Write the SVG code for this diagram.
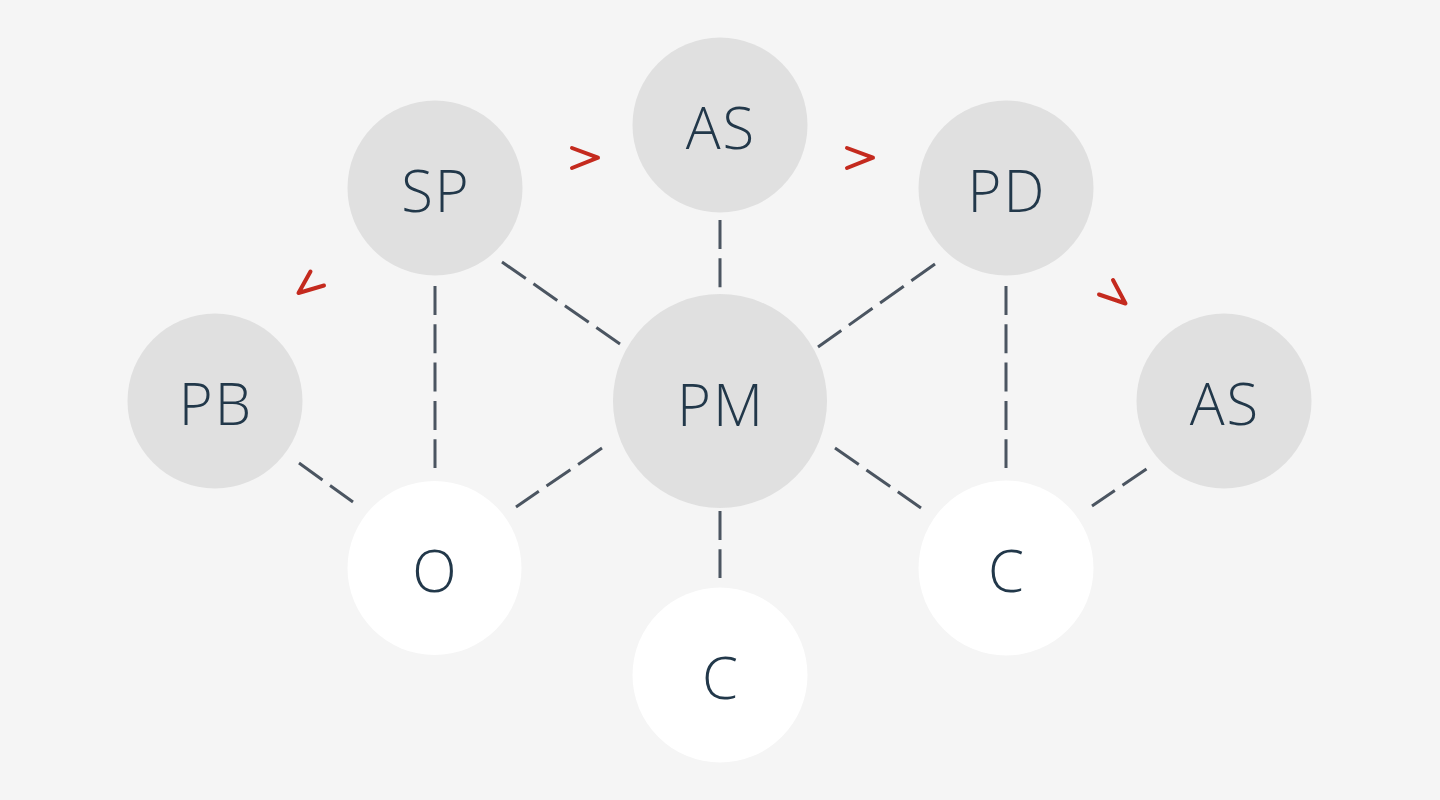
<svg xmlns="http://www.w3.org/2000/svg" width="1440" height="800" viewBox="0 0 1440 800">
<style>
.bg{fill:#f5f5f5}
.g{fill:#e0e0e0}
.w{fill:#ffffff}
.t{font-family:"Open Sans","Lato",sans-serif;font-weight:300;font-size:58px;fill:#22384a;text-anchor:middle;letter-spacing:2px}
.c{stroke:#4b5561;stroke-width:3;stroke-dasharray:29 9.3;fill:none}
.a{stroke:#c42a1e;stroke-width:4;fill:none;stroke-linecap:round;stroke-linejoin:round}
</style>
<rect class="bg" x="0" y="0" width="1440" height="800"/>
<g id="connectors">
<line class="c" x1="720" y1="220" x2="720" y2="288"/>
<line class="c" x1="502" y1="262" x2="620" y2="344"/>
<line class="c" x1="935" y1="264" x2="818" y2="347"/>
<line class="c" x1="435" y1="286" x2="435" y2="468"/>
<line class="c" x1="1006" y1="286" x2="1006" y2="468"/>
<line class="c" x1="299" y1="463" x2="353" y2="502"/>
<line class="c" x1="602" y1="448" x2="516" y2="507"/>
<line class="c" x1="720" y1="511" x2="720" y2="578"/>
<line class="c" x1="835" y1="448" x2="921" y2="508"/>
<line class="c" x1="1146.5" y1="469" x2="1092" y2="506"/>
</g>
<g id="arrows">
<polyline class="a" points="572,148 598,157.7 572,168"/>
<polyline class="a" points="847,148 873,157.7 847,168"/>
<polyline class="a" points="310.5,271.5 298.5,293 324,285.5"/>
<polyline class="a" points="1113,280 1125.5,303.5 1099,294.5"/>
</g>
<g id="node-SP"><circle class="g" cx="435" cy="188" r="87.5"/><text class="t" x="436" y="212">SP</text></g>
<g id="node-AS-top"><circle class="g" cx="720" cy="125" r="87.5"/><text class="t" x="721" y="149">AS</text></g>
<g id="node-PD"><circle class="g" cx="1006" cy="188" r="87.5"/><text class="t" x="1007" y="212">PD</text></g>
<g id="node-PB"><circle class="g" cx="215" cy="401" r="87.5"/><text class="t" x="216" y="425">PB</text></g>
<g id="node-PM"><circle class="g" cx="720" cy="401" r="107"/><text class="t" x="721" y="426">PM</text></g>
<g id="node-AS-right"><circle class="g" cx="1224" cy="401" r="87.5"/><text class="t" x="1225" y="425">AS</text></g>
<g id="node-O"><circle class="w" cx="434.5" cy="568" r="87"/><text class="t" x="435.5" y="592">O</text></g>
<g id="node-C-bottom"><circle class="w" cx="720" cy="675" r="87.5"/><text class="t" x="721" y="699">C</text></g>
<g id="node-C-right"><circle class="w" cx="1006" cy="568" r="87.5"/><text class="t" x="1007" y="592">C</text></g>
</svg>
